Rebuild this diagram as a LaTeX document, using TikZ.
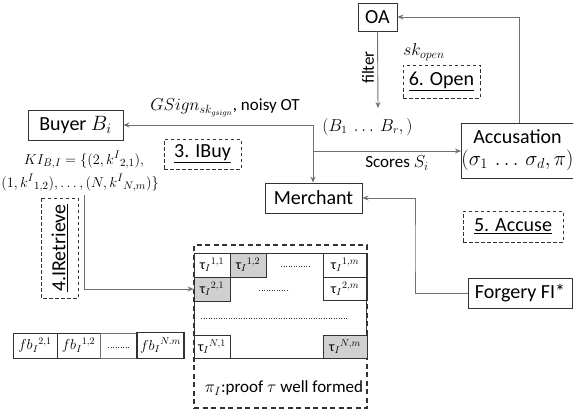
\documentclass[tikz,border=0pt]{standalone}
\usepackage{fontspec}
\setmainfont{Carlito}
\usetikzlibrary{arrows.meta}
\definecolor{boxc}{HTML}{333333}
\definecolor{linec}{HTML}{707070}
\definecolor{cellgray}{HTML}{D0D0D0}
\begin{document}
\begin{tikzpicture}[x=1pt,y=-1pt,
  box/.style={draw=boxc,line width=0.9pt,inner sep=0pt,font=\fontsize{20}{23}\selectfont,align=center},
  dbox/.style={draw=boxc,line width=0.9pt,dash pattern=on 3.5pt off 2.5pt,inner sep=0pt,font=\fontsize{20}{23}\selectfont},
  conn/.style={draw=linec,line width=0.9pt,-{Stealth[length=6pt,width=5pt]}},
  lbl/.style={font=\fontsize{17}{20}\selectfont,inner sep=0pt},
  mlbl/.style={font=\fontsize{15}{18}\selectfont,inner sep=0pt},
  cell/.style={draw=boxc,line width=0.8pt,minimum width=36pt,minimum height=24pt,inner sep=0pt,font=\fontsize{14}{16}\selectfont},
  gcell/.style={cell,fill=cellgray},
  dotline/.style={draw=boxc,line width=0.9pt,dash pattern=on 0.9pt off 1.6pt}
]
\useasboundingbox (0,0) rectangle (573,412);

% main boxes
\node[box,minimum width=95pt,minimum height=30pt] (buyer) at (75.5,125) {Buyer $B_i$};
\node[box,minimum width=39pt,minimum height=28pt] (oa) at (377.5,17) {OA};
\node[box,minimum width=97pt,minimum height=30pt] (merchant) at (313.5,198) {Merchant};
\node[box,minimum width=109pt,minimum height=55pt] (accusation) at (517.5,150.5) {Accusation\\[-1pt]{\fontsize{19.5}{21}\selectfont$(\sigma_1\,\ldots\,\sigma_d,\pi)$}};
\node[box,minimum width=104pt,minimum height=30pt] (forgery) at (520,293) {Forgery FI*};

% dashed step boxes
\node[dbox,minimum width=77pt,minimum height=33pt] (open) at (441.5,81.5) {\underline{6. Open}};
\node[dbox,minimum width=77pt,minimum height=30pt] (ibuy) at (202.5,154) {\underline{3. IBuy}};
\node[dbox,minimum width=100pt,minimum height=31pt] (accuse) at (513,226.5) {\underline{5. Accuse}};
\node[dbox,rotate=90,minimum width=100pt,minimum height=37pt] (iretrieve) at (59.5,248) {\underline{4.IRetrieve}};

% labels
\node[lbl] (gsign) at (225,108) {$GSign_{sk_{gsign}}$, noisy OT};
\node[lbl] (skopen) at (424,52) {$sk_{open}$};
\node[lbl,rotate=90] (filter) at (368,67.5) {filter};
\node[font=\fontsize{16}{18}\selectfont,inner sep=0pt] (blist) at (367.5,127) {$(B_1\ \ldots\ B_r,)$};
\node[lbl] (scores) at (397,163) {Scores $S_i$};
\node[mlbl] (ki1) at (84,160) {$KI_{B,I}=\{(2,k^I{}_{2,1}),$};
\node[mlbl] (ki2) at (80,183) {$(1,k^I{}_{1,2}),\ldots,(N,k^I{}_{N,m})\}$};

% junctions
\coordinate (j1) at (313,125);
\coordinate (j2) at (313,151);
\coordinate (f1) at (378,108);
\coordinate (b1) at (415,250);
\coordinate (k1) at (84,195);

% tau matrix
\node[draw=boxc,line width=1.1pt,dash pattern=on 5pt off 3.5pt,minimum width=173pt,minimum height=163pt,inner sep=0pt] (outer) at (280.5,326.5) {};
\node[draw=boxc,line width=0.9pt,minimum width=172pt,minimum height=105pt,inner sep=0pt] (inner) at (280,305.5) {};
\node[cell] (t11) at (212,265) {τ$_I{}^{1,1}$};
\node[gcell] (t12) at (248,265) {τ$_I{}^{1,2}$};
\node[gcell] (t21) at (212,289) {τ$_I{}^{2,1}$};
\node[cell,minimum width=44pt] (t1m) at (345,265) {τ$_I{}^{1,m}$};
\node[cell,minimum width=44pt,minimum height=23pt] (t2m) at (345,288.5) {τ$_I{}^{2,m}$};
\node[cell,minimum height=23pt] (tN1) at (212,346.5) {τ$_I{}^{N,1}$};
\node[gcell,minimum width=44pt,minimum height=23pt] (tNm) at (345,346.5) {τ$_I{}^{N,m}$};
\draw[dotline] (281,266) -- (310,266);
\draw[dotline] (259,290) -- (289,290);
\draw[dotline] (201,318) -- (347,318);
\node[lbl] (proof) at (284,388) {$\pi_I$:proof $\tau$ well formed};

% fb row
\node[cell,minimum width=44pt,minimum height=25pt] (fb21) at (35,345.5) {$fb_I{}^{2,1}$};
\node[cell,minimum width=43pt,minimum height=25pt] (fb12) at (78.5,345.5) {$fb_I{}^{1,2}$};
\node[cell,draw=linec,minimum width=37pt,minimum height=25pt] (fbdots) at (118.5,345.5) {};
\draw[dotline] (108,347) -- (129,347);
\node[cell,line width=1.2pt,minimum width=47pt,minimum height=26pt] (fbNm) at (160.5,345.5) {$fb_I{}^{N.m}$};

% connectors
\draw[conn] (j1) -- (buyer.east);
\draw[conn] (j1) -- (j1 |- merchant.north);
\draw[conn] (j2) -- (j2 -| accusation.west);
\draw[conn] ([xshift=1.5pt]accusation.north) |- (oa.east);
\draw[conn] (oa.south) -- (f1);
\draw[conn] (forgery.west) -| (b1) |- (merchant.east);
\draw[conn] (k1) |- (t21.west);
\end{tikzpicture}
\end{document}
